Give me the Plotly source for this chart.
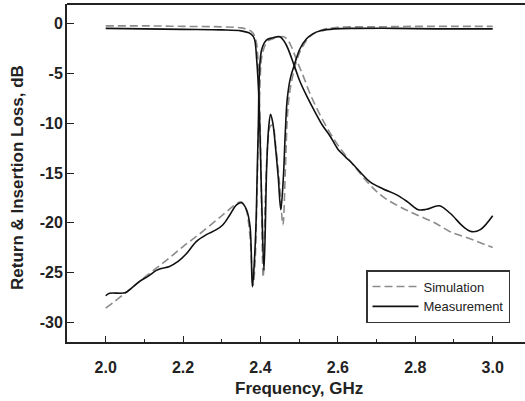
import plotly.graph_objects as go

# Measured insertion loss (S21)
meas_s21_f = [2.000, 2.010, 2.050, 2.066, 2.088, 2.109, 2.131, 2.144, 2.165, 2.187, 2.209, 2.234,
              2.260, 2.286, 2.303, 2.321, 2.338, 2.351, 2.364, 2.373, 2.379, 2.384, 2.389, 2.394,
              2.403, 2.416, 2.432, 2.450, 2.465, 2.489, 2.502, 2.520, 2.540, 2.560, 2.580, 2.600,
              2.620, 2.636, 2.660, 2.683, 2.717, 2.752, 2.780, 2.808, 2.829, 2.862, 2.890, 2.924,
              2.946, 2.968, 3.000]
meas_s21_db = [-27.35, -27.1, -27.05, -26.6, -25.9, -25.4, -24.8, -24.6, -24.4, -23.9, -23.1, -21.9,
               -21.2, -20.7, -20.2, -19.2, -18.2, -18.0, -18.7, -20.4, -26.45, -24.0, -19.4, -11.0,
               -2.6, -1.6, -1.4, -1.3, -2.0, -4.4, -5.8, -7.3, -8.8, -10.2, -11.3, -12.6,
               -13.4, -14.0, -15.0, -15.9, -16.6, -17.2, -17.9, -18.7, -18.65, -18.3, -19.05, -20.4,
               -20.9, -20.7, -19.3]

# Simulated insertion loss (S21)
sim_s21_f = [2.0, 2.05, 2.1, 2.15, 2.2, 2.25, 2.3, 2.338, 2.350, 2.362, 2.372, 2.381, 2.386,
             2.391, 2.397, 2.406, 2.420, 2.440, 2.460, 2.470, 2.480, 2.495, 2.510, 2.530, 2.560,
             2.600, 2.640, 2.683, 2.717, 2.760, 2.803, 2.850, 2.890, 2.940, 3.0]
sim_s21_db = [-28.6, -27.1, -25.5, -24.0, -22.4, -20.9, -19.3, -18.1, -17.9, -18.6, -21.0, -26.3, -24.0,
              -17.0, -8.0, -2.8, -1.7, -1.4, -1.3, -1.6, -2.3, -3.8, -5.2, -7.2, -9.6,
              -12.2, -14.2, -16.2, -17.4, -18.4, -19.2, -20.0, -20.9, -21.6, -22.5]

# Measured return loss (S11)
meas_s11_f = [2.0, 2.1, 2.2, 2.3, 2.35, 2.37, 2.38, 2.385, 2.390, 2.396, 2.403, 2.409, 2.416, 2.421,
              2.426, 2.432, 2.4395, 2.446, 2.4525, 2.459, 2.464, 2.469, 2.477, 2.486, 2.502, 2.519,
              2.535, 2.555, 2.590, 2.650, 2.750, 2.850, 2.950, 3.0]
meas_s11_db = [-0.45, -0.5, -0.55, -0.6, -0.7, -0.9, -1.2, -1.6, -3.5, -7.6, -17.7, -24.8, -14.4, -10.5,
               -9.1, -10.0, -12.7, -15.5, -18.7, -15.5, -11.0, -7.6, -5.5, -4.3, -2.5, -1.5,
               -1.0, -0.7, -0.5, -0.45, -0.45, -0.5, -0.5, -0.5]

# Simulated return loss (S11)
sim_s11_f = [2.0, 2.1, 2.2, 2.3, 2.35, 2.37, 2.38, 2.388, 2.394, 2.400, 2.407, 2.412, 2.419, 2.425,
             2.431, 2.440, 2.449, 2.458, 2.464, 2.470, 2.477, 2.486, 2.496, 2.510, 2.530, 2.560,
             2.600, 2.700, 2.800, 2.900, 3.0]
sim_s11_db = [-0.2, -0.2, -0.25, -0.3, -0.4, -0.6, -0.9, -1.6, -4.0, -12.0, -25.5, -18.0, -12.0, -10.3,
              -10.2, -12.5, -16.0, -20.2, -15.0, -9.0, -6.5, -4.8, -3.4, -2.2, -1.2, -0.6,
              -0.35, -0.3, -0.25, -0.25, -0.25]

x_ticks = [2.0, 2.2, 2.4, 2.6, 2.8, 3.0]
y_ticks = [0, -5, -10, -15, -20, -25, -30]

SIM = dict(color="#8c8c8c", width=1.6, dash="8px,4px")
MEAS = dict(color="#111111", width=1.6)

fig = go.Figure()
fig.add_trace(go.Scatter(x=sim_s21_f, y=sim_s21_db, mode="lines", line=SIM, line_shape="spline",
                         name="Simulation", legendgroup="sim"))
fig.add_trace(go.Scatter(x=sim_s11_f, y=sim_s11_db, mode="lines", line=SIM, line_shape="spline",
                         name="Simulation", legendgroup="sim", showlegend=False))
fig.add_trace(go.Scatter(x=meas_s21_f, y=meas_s21_db, mode="lines", line=MEAS, line_shape="spline",
                         name="Measurement", legendgroup="meas"))
fig.add_trace(go.Scatter(x=meas_s11_f, y=meas_s11_db, mode="lines", line=MEAS, line_shape="spline",
                         name="Measurement", legendgroup="meas", showlegend=False))

FAM = "Liberation Sans, Arial, sans-serif"

fig.update_layout(
    width=525, height=401,
    margin=dict(l=67, r=0, t=4, b=59),
    paper_bgcolor="white", plot_bgcolor="white",
    showlegend=True,
    legend=dict(x=(366 - 67) / 458, y=1 - (270 - 4) / 338, xanchor="left", yanchor="top",
                bgcolor="white", bordercolor="#333333", borderwidth=1.5,
                font=dict(family=FAM, size=13, color="#222222"),
                itemwidth=46, tracegroupgap=0),
    xaxis=dict(range=[1.9, 3.0835], tickvals=x_ticks, ticktext=["%.1f" % v for v in x_ticks],
               ticks="inside", ticklen=6, tickwidth=1.3, tickcolor="#222222", automargin=False,
               minor=dict(tickvals=[2.1, 2.3, 2.5, 2.7, 2.9], ticks="inside", ticklen=3,
                          tickcolor="#222222", tickwidth=1.2),
               showline=True, linecolor="#222222", linewidth=2, showgrid=False, zeroline=False,
               tickfont=dict(family=FAM, size=16, color="#222222", weight="bold"),
               ticklabelstandoff=10),
    yaxis=dict(range=[-32, 2], tickvals=y_ticks, ticktext=[str(v) for v in y_ticks],
               ticks="inside", ticklen=7, tickwidth=1.3, tickcolor="#222222", automargin=False,
               showline=True, linecolor="#222222", linewidth=2, showgrid=False, zeroline=False,
               tickfont=dict(family=FAM, size=16, color="#222222", weight="bold"),
               ticklabelstandoff=-1),
    shapes=[dict(type="line", xref="paper", yref="paper", x0=0, x1=1, y0=1, y1=1,
                 line=dict(color="#222222", width=2))],
    annotations=[
        dict(text="Frequency, GHz", xref="paper", yref="paper", x=(299 - 67) / 458, y=-(388 - 342) / 338,
             xanchor="center", yanchor="middle", showarrow=False,
             font=dict(family=FAM, size=17, color="#222222", weight="bold")),
        dict(text="Return & Insertion Loss, dB", xref="paper", yref="paper", x=-(67 - 17) / 458,
             y=(342 - 178) / 338, xanchor="center", yanchor="middle", textangle=-90, showarrow=False,
             font=dict(family=FAM, size=17, color="#222222", weight="bold")),
    ],
)

fig.write_html("out.html", config={"displayModeBar": False},
               post_script="document.body.style.margin='0';")
